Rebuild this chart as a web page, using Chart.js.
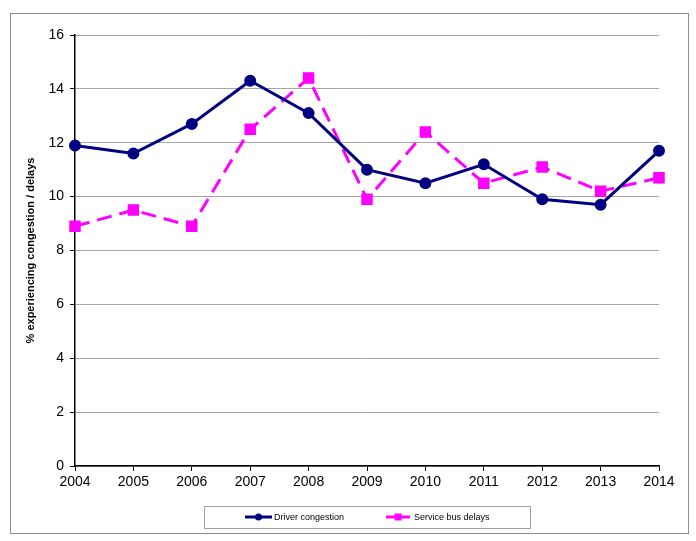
<!DOCTYPE html>
<html>
<head>
<meta charset="utf-8">
<script src="https://cdn.jsdelivr.net/npm/chart.js@4.4.1/dist/chart.umd.min.js"></script>
<style>
  html, body { margin: 0; padding: 0; background: #fff; }
  #wrap { width: 696px; height: 541px; position: relative; }
</style>
</head>
<body>
<div id="wrap"><canvas id="chart" width="696" height="541"></canvas></div>
<script>
const years = ['2004', '2005', '2006', '2007', '2008', '2009', '2010', '2011', '2012', '2013', '2014'];
const driverCongestion = [11.9, 11.6, 12.7, 14.3, 13.1, 11.0, 10.5, 11.2, 9.9, 9.7, 11.7];
const busDelays = [8.9, 9.5, 8.9, 12.5, 14.4, 9.9, 12.4, 10.5, 11.1, 10.2, 10.7];
const yTicks = [0, 2, 4, 6, 8, 10, 12, 14, 16];

const navy = '#000080';
const magenta = '#FF00FF';

// outer frame + boxed legend drawn by hand
const framePlugin = {
    id: 'frame',
    afterDraw(chart) {
        const ctx = chart.ctx;
        ctx.save();
        ctx.strokeStyle = '#8c8c8c';
        ctx.lineWidth = 1;
        ctx.strokeRect(10.5, 13.5, 678, 520);

        // legend box
        ctx.strokeStyle = '#a0a0a0';
        ctx.strokeRect(204.5, 506.5, 326, 22);

        const items = [
            { ds: chart.data.datasets[0], x1: 245, x2: 272, tx: 274 },
            { ds: chart.data.datasets[1], x1: 386, x2: 410, tx: 414 }
        ];
        const y = 517;
        ctx.font = '9px "Liberation Sans", Arial, sans-serif';
        ctx.textBaseline = 'middle';
        items.forEach(it => {
            ctx.strokeStyle = it.ds.borderColor;
            ctx.lineWidth = 3;
            ctx.setLineDash([]);
            ctx.beginPath();
            ctx.moveTo(it.x1, y);
            ctx.lineTo(it.x2, y);
            ctx.stroke();
            ctx.fillStyle = it.ds.borderColor;
            const mx = (it.x1 + it.x2) / 2;
            if (it.ds.pointStyle === 'rect') {
                ctx.fillRect(mx - 3.5, y - 3.5, 7, 7);
            } else {
                ctx.beginPath();
                ctx.arc(mx, y, 3.5, 0, Math.PI * 2);
                ctx.fill();
            }
            ctx.fillStyle = '#000';
            ctx.fillText(it.ds.label, it.tx, y + 0.5);
        });
        ctx.restore();
    }
};

new Chart(document.getElementById('chart'), {
    type: 'line',
    data: {
        labels: years,
        datasets: [{
            label: 'Driver congestion',
            data: driverCongestion,
            borderColor: navy,
            backgroundColor: navy,
            borderWidth: 3,
            pointStyle: 'circle',
            pointRadius: 4.5,
            pointHoverRadius: 4.5,
            tension: 0
        }, {
            label: 'Service bus delays',
            data: busDelays,
            borderColor: magenta,
            backgroundColor: magenta,
            borderWidth: 3,
            borderDash: [15, 8],
            pointStyle: 'rect',
            pointRadius: 6,
            pointHoverRadius: 6,
            tension: 0
        }]
    },
    options: {
        responsive: false,
        animation: false,
        devicePixelRatio: 1,
        layout: { padding: { left: 24, right: 37, top: 35, bottom: 0 } },
        plugins: {
            legend: { display: false },
            tooltip: { enabled: false }
        },
        scales: {
            x: {
                offset: false,
                grid: {
                    display: true,
                    drawOnChartArea: false,
                    drawTicks: true,
                    tickLength: 5,
                    color: '#000'
                },
                border: { display: true, color: '#000', width: 1.5 },
                ticks: {
                    color: '#000',
                    font: { family: '"Liberation Sans", Arial, sans-serif', size: 14 },
                    maxRotation: 0,
                    padding: 3
                },
                afterFit(scale) { scale.height = 75; }
            },
            y: {
                min: 0,
                max: 16,
                afterBuildTicks(scale) { scale.ticks = yTicks.map(v => ({ value: v })); },
                grid: {
                    color: '#a6a6a6',
                    lineWidth: 1,
                    drawTicks: true,
                    tickLength: 5,
                    tickColor: '#000'
                },
                border: { display: true, color: '#000', width: 1.5 },
                ticks: {
                    color: '#000',
                    font: { family: '"Liberation Sans", Arial, sans-serif', size: 14 },
                    padding: 6
                },
                title: {
                    display: true,
                    text: '% experiencing congestion / delays',
                    color: '#000',
                    font: { family: '"Liberation Sans", Arial, sans-serif', size: 11, weight: 'bold' },
                    padding: { top: 0, bottom: 10 }
                },
                afterFit(scale) { scale.width = 51; }
            }
        }
    },
    plugins: [framePlugin]
});
</script>
</body>
</html>
